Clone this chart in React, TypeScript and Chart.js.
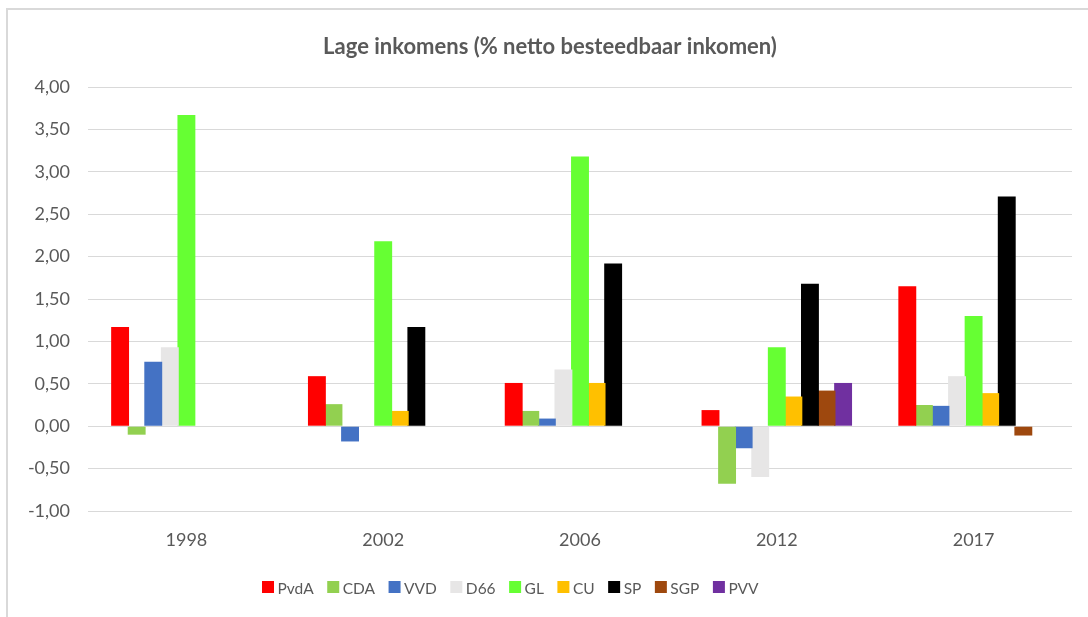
import React, { useEffect, useRef } from "react";
import { Chart, registerables } from "chart.js";

Chart.register(...registerables);

const chartTitle = "Lage inkomens (% netto besteedbaar inkomen)";
const years = ["1998", "2002", "2006", "2012", "2017"];

const parties = ["PvdA", "CDA", "VVD", "D66", "GL", "CU", "SP", "SGP", "PVV"];
const partyColors = ["#FF0000", "#92D050", "#4472C4", "#E7E6E6", "#66FF33", "#FFC000", "#000000", "#9E480E", "#7030A0"];

const pvda = [1.17, 0.59, 0.51, 0.19, 1.65];
const cda = [-0.1, 0.26, 0.18, -0.68, 0.25];
const vvd = [0.76, -0.18, 0.09, -0.26, 0.24];
const d66 = [0.93, null, 0.67, -0.6, 0.59];
const gl = [3.67, 2.18, 3.18, 0.93, 1.3];
const cu = [null, 0.18, 0.51, 0.35, 0.39];
const sp = [null, 1.17, 1.92, 1.68, 2.71];
const sgp = [null, null, null, 0.42, -0.11];
const pvv = [null, null, null, 0.51, null];

const seriesValues = [pvda, cda, vvd, d66, gl, cu, sp, sgp, pvv];

const yMin = -1;
const yMax = 4;
const yStep = 0.5;

const FONT = "Lato, 'Open Sans', sans-serif";
const TEXT = "#595959";

const overlayPlugin = {
  id: "overlayTitleLegend",
  afterDraw(chart: any) {
    const ctx = chart.ctx;
    ctx.save();
    ctx.fillStyle = TEXT;
    ctx.font = `bold 22px ${FONT}`;
    ctx.textAlign = "center";
    ctx.textBaseline = "alphabetic";
    ctx.fillText(chartTitle, 550, 54);

    ctx.font = `15.5px ${FONT}`;
    ctx.textAlign = "left";
    let x = 262;
    const base = 594;
    chart.data.datasets.forEach((ds: any) => {
      ctx.fillStyle = ds.backgroundColor;
      ctx.fillRect(x, 581, 12, 12);
      x += 15.5;
      ctx.fillStyle = TEXT;
      ctx.fillText(ds.label, x, base);
      x += ctx.measureText(ds.label).width + 13.5;
    });
    ctx.restore();
  },
};

export default function App() {
  const ref = useRef<HTMLCanvasElement | null>(null);

  useEffect(() => {
    if (!ref.current) return;
    const chart = new Chart(ref.current, {
      type: "bar",
      data: {
        labels: years,
        datasets: parties.map((p, i) => ({
          label: p,
          data: seriesValues[i],
          backgroundColor: partyColors[i],
          borderWidth: 0,
          categoryPercentage: 0.758,
          barPercentage: 1.08,
        })),
      },
      options: {
        responsive: false,
        animation: false,
        layout: { padding: { top: 87, right: 16, left: 0, bottom: 0 } },
        plugins: {
          legend: { display: false },
          title: { display: false },
          tooltip: { enabled: false },
        },
        scales: {
          x: {
            grid: { display: false, drawTicks: false },
            border: { display: false },
            ticks: { color: TEXT, font: { family: FONT, size: 18 }, padding: 18 },
            afterFit: (s: any) => {
              s.height = 106;
            },
          },
          y: {
            min: yMin,
            max: yMax,
            grid: { color: "#D9D9D9", lineWidth: 1, drawTicks: false },
            border: { display: false },
            ticks: {
              stepSize: yStep,
              color: TEXT,
              padding: 18,
              font: { family: FONT, size: 18 },
              callback: (v: any) => Number(v).toFixed(2).replace(".", ","),
            },
            afterFit: (s: any) => {
              s.width = 88;
            },
          },
        },
      },
      plugins: [overlayPlugin],
    });
    return () => chart.destroy();
  }, []);

  return (
    <>
      <canvas
        ref={ref}
        width={1088}
        height={617}
        style={{ position: "fixed", left: 0, top: 0, width: 1088, height: 617 }}
      />
      <div
        style={{
          position: "fixed",
          left: 6,
          top: 8,
          width: 1200,
          height: 700,
          border: "2px solid #D9D9D9",
          pointerEvents: "none",
        }}
      />
    </>
  );
}
